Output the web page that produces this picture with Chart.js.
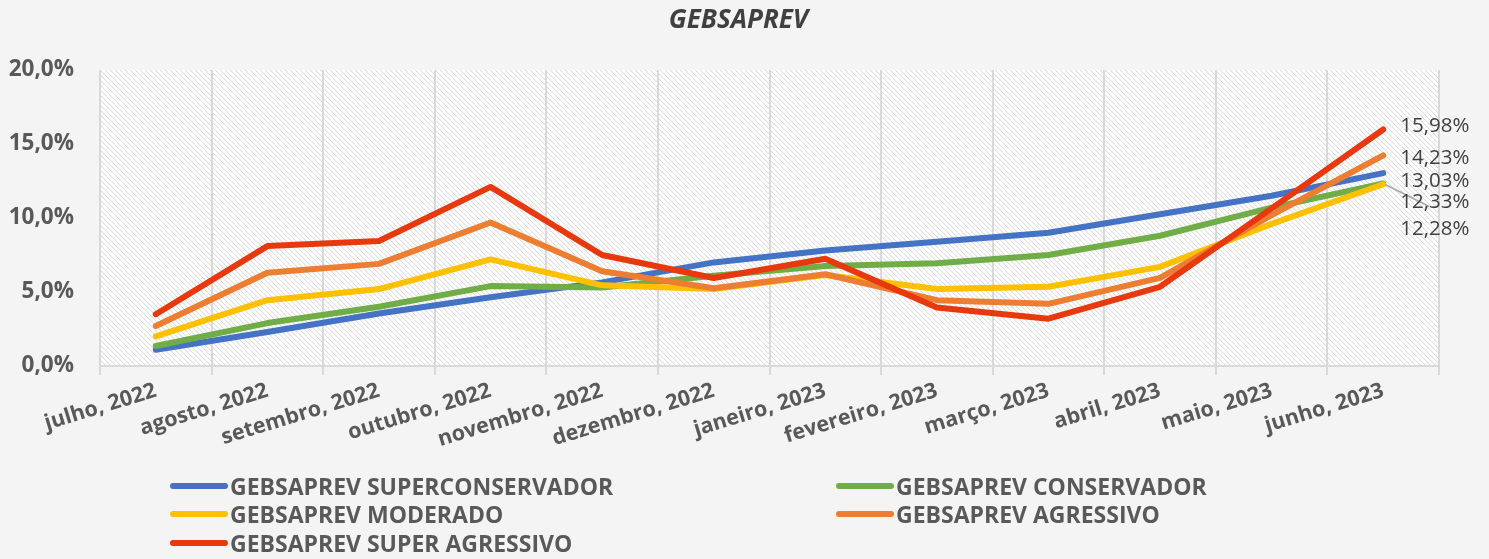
<!DOCTYPE html>
<html>
<head>
<meta charset="utf-8">
<script src="https://cdn.jsdelivr.net/npm/chart.js@4"></script>
<style>
  html, body { margin: 0; padding: 0; background: #f4f4f4; }
  #wrap { position: relative; width: 1489px; height: 559px; }
  #legend { position: absolute; left: 0; top: 0; width: 1489px; height: 559px; pointer-events: none; }
  .li { position: absolute; display: flex; align-items: center; font-family: "Open Sans", sans-serif; font-weight: 700; font-size: 23px; color: #595959; white-space: nowrap; }
  .sw { width: 58px; height: 6px; border-radius: 3px; margin-right: 2px; }
</style>
</head>
<body>
<div id="wrap">
  <canvas id="c" width="1489" height="559"></canvas>
  <div id="legend"></div>
</div>
<script>
const categories = ["julho, 2022","agosto, 2022","setembro, 2022","outubro, 2022","novembro, 2022","dezembro, 2022","janeiro, 2023","fevereiro, 2023","março, 2023","abril, 2023","maio, 2023","junho, 2023"];
const seriesNames = ["GEBSAPREV SUPERCONSERVADOR","GEBSAPREV CONSERVADOR","GEBSAPREV MODERADO","GEBSAPREV AGRESSIVO","GEBSAPREV SUPER AGRESSIVO"];
const superConservador = [1.1, 2.3, 3.55, 4.65, 5.65, 7.0, 7.8, 8.4, 9.0, 10.25, 11.5, 13.03];
const conservador      = [1.35, 2.9, 4.0, 5.4, 5.3, 6.1, 6.75, 6.95, 7.5, 8.8, 10.7, 12.33];
const moderado         = [2.0, 4.45, 5.2, 7.2, 5.45, 5.2, 6.15, 5.2, 5.35, 6.7, 9.6, 12.28];
const agressivo        = [2.7, 6.3, 6.9, 9.7, 6.4, 5.25, 6.2, 4.45, 4.2, 5.95, 10.2, 14.23];
const superAgressivo   = [3.5, 8.1, 8.45, 12.1, 7.5, 5.95, 7.25, 3.95, 3.2, 5.35, 10.65, 15.98];
const yTicks = [0, 5, 10, 15, 20];

const colors = ["#4472C4", "#70AD47", "#FFC000", "#ED7D31", "#E8390E"];
const seriesData = [superConservador, conservador, moderado, agressivo, superAgressivo];
// end-label vertical offsets (px) and leader flag: styling only
const labelDy = [8, 19, 45, 3, -3];
const labelLeader = [false, true, false, false, false];

function fmtPct(v, d) { return v.toFixed(d).replace('.', ',') + '%'; }

// hatch pattern
const tile = document.createElement('canvas');
tile.width = 5; tile.height = 5;
const tctx = tile.getContext('2d');
tctx.fillStyle = '#ffffff'; tctx.fillRect(0,0,5,5);
tctx.fillStyle = '#dedede';
for (let i = 0; i < 5; i++) tctx.fillRect(i, i, 1, 1);
tctx.fillStyle = '#f5f5f5';
for (let i = 0; i < 5; i++) tctx.fillRect((i+1)%5, i, 1, 1);

const plotBg = {
  id: 'plotBg',
  beforeDraw(chart) {
    const {ctx, chartArea: a} = chart;
    ctx.save();
    ctx.fillStyle = ctx.createPattern(tile, 'repeat');
    ctx.fillRect(a.left, a.top, a.right - a.left, a.bottom - a.top);
    ctx.restore();
  }
};

const endLabels = {
  id: 'endLabels',
  afterDatasetsDraw(chart) {
    const ctx = chart.ctx;
    ctx.save();
    ctx.font = '20.5px "Open Sans"';
    ctx.fillStyle = '#404040';
    ctx.textBaseline = 'middle';
    ctx.textAlign = 'left';
    chart.data.datasets.forEach((ds, i) => {
      const meta = chart.getDatasetMeta(i);
      const pt = meta.data[meta.data.length - 1];
      const v = ds.data[ds.data.length - 1];
      const ly = pt.y + labelDy[i];
      if (labelLeader[i]) {
        ctx.strokeStyle = '#a6a6a6';
        ctx.lineWidth = 1.5;
        ctx.beginPath();
        ctx.moveTo(pt.x + 2, pt.y + 1);
        ctx.lineTo(pt.x + 46, ly + 4);
        ctx.stroke();
      }
      ctx.fillText(fmtPct(v, 2), pt.x + 17, ly);
    });
    ctx.restore();
  }
};

const datasets = seriesNames.map((name, i) => ({
  label: name,
  data: seriesData[i],
  borderColor: colors[i],
  backgroundColor: colors[i],
  borderWidth: 6,
  pointRadius: 0,
  pointHoverRadius: 0,
  tension: 0,
  borderCapStyle: 'round',
  borderJoinStyle: 'round',
  fill: false,
  yAxisID: 'y',
  order: seriesNames.length - i
}));

const chart = new Chart(document.getElementById('c'), {
  type: 'line',
  data: { labels: categories, datasets },
  options: {
    responsive: false,
    animation: false,
    layout: { padding: { left: 0, right: 12, top: 0, bottom: 100 } },
    plugins: {
      legend: { display: false },
      tooltip: { enabled: false },
      title: {
        display: true,
        text: 'GEBSAPREV',
        color: '#404040',
        font: { family: 'Open Sans', size: 26, weight: 'bold', style: 'italic', lineHeight: 1.2 },
        padding: { top: 5, bottom: 33.8 }
      }
    },
    scales: {
      x: {
        offset: true,
        grid: { display: true, offset: true, color: '#d9d9d9', lineWidth: 2, drawTicks: true, tickLength: 9, tickColor: '#d9d9d9' },
        border: { display: true, color: '#d9d9d9', width: 2 },
        ticks: {
          color: '#595959',
          font: { family: 'Open Sans', size: 21.5, weight: 'bold' },
          minRotation: 17, maxRotation: 17,
          autoSkip: false,
          padding: 3
        },
        afterFit(scale) { scale.height = 93; }
      },
      y: {
        position: 'left',
        min: 0, max: 20,
        afterBuildTicks(scale) { scale.ticks = yTicks.map(v => ({ value: v })); },
        grid: { display: false, drawTicks: false },
        border: { display: false },
        ticks: {
          color: '#595959',
          font: { family: 'Open Sans', size: 22.5, weight: 'bold' },
          padding: 26,
          callback: (v) => fmtPct(v, 1)
        },
        afterFit(scale) { scale.width = 100; }
      },
      yRight: {
        position: 'right',
        display: true,
        min: 0, max: 20,
        grid: { display: false, drawTicks: false },
        border: { display: false },
        ticks: { display: false },
        afterFit(scale) { scale.width = 38; }
      }
    }
  },
  plugins: [plotBg, endLabels]
});

// HTML legend built from chart datasets
const legendPos = [[170, 486], [836, 486], [170, 514], [836, 514], [170, 543]];
const leg = document.getElementById('legend');
chart.data.datasets.forEach((ds, i) => {
  const d = document.createElement('div');
  d.className = 'li';
  d.style.left = legendPos[i][0] + 'px';
  d.style.top = (legendPos[i][1] - 15) + 'px';
  d.style.height = '30px';
  const sw = document.createElement('span');
  sw.className = 'sw';
  sw.style.background = ds.borderColor;
  const t = document.createElement('span');
  t.textContent = ds.label;
  d.appendChild(sw); d.appendChild(t);
  leg.appendChild(d);
});
</script>
</body>
</html>
